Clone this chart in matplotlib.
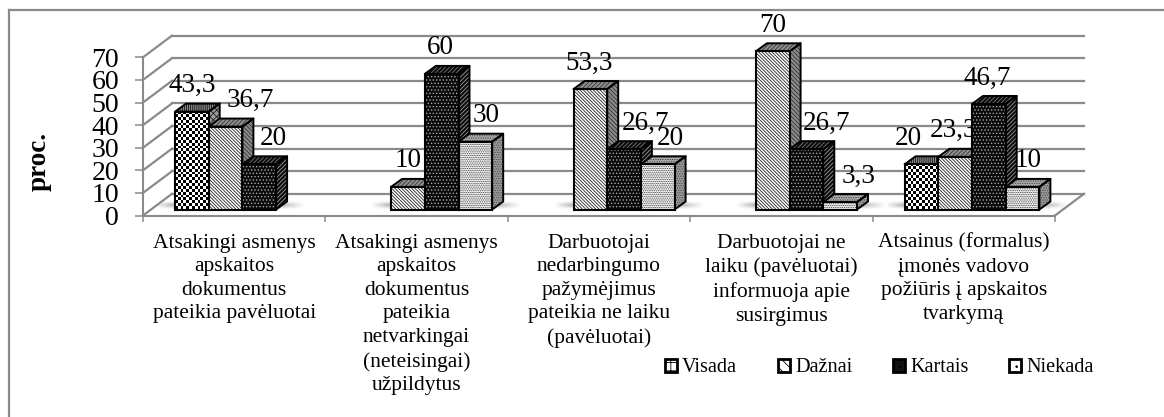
import numpy as np
import matplotlib
matplotlib.use("Agg")
import matplotlib.pyplot as plt
from matplotlib.lines import Line2D
from matplotlib.patches import Patch, Polygon

plt.rcParams['font.family'] = ['Liberation Serif', 'DejaVu Sans']
plt.rcParams['hatch.linewidth'] = 0.6

categories = [
    "Atsakingi asmenys\napskaitos\ndokumentus\npateikia pavėluotai",
    "Atsakingi asmenys\napskaitos\ndokumentus\npateikia\nnetvarkingai\n(neteisingai)\nužpildytus",
    "Darbuotojai\nnedarbingumo\npažymėjimus\npateikia ne laiku\n(pavėluotai)",
    "Darbuotojai ne\nlaiku (pavėluotai)\ninformuoja apie\nsusirgimus",
    "Atsainus (formalus)\nįmonės vadovo\npožiūris į apskaitos\ntvarkymą",
]
series_names = ["Visada", "Dažnai", "Kartais", "Niekada"]
visada = [43.3, None, None, None, 20]
daznai = [36.7, 10, 53.3, 70, 23.3]
kartais = [20, 60, 26.7, 26.7, 46.7]
niekada = [None, 30, 20, 3.3, 10]
series = [visada, daznai, kartais, niekada]
value_labels = [
    ["43,3", None, None, None, "20"],
    ["36,7", "10", "53,3", "70", "23,3"],
    ["20", "60", "26,7", "26,7", "46,7"],
    [None, "30", "20", "3,3", "10"],
]
y_ticks = [0, 10, 20, 30, 40, 50, 60, 70]

# label nudges in pixels from bar centre, excel placed them by hand
label_dx = [
    [0, 0, 0, 0, -13],
    [25, 0, -1, 0, -2],
    [14, -1, 21, 20, -2],
    [0, 11, 13, 18, 6],
]

W, H = 1164, 417
GRID = "#8a8a8a"
PX_X = 182.4   # pixels for one category
PX_Y = 2.26    # pixels for one percent
BAR_W = 33.7 / PX_X
BAR_START = 32 / PX_X
BASE = 6 / PX_Y
WALL_DX, WALL_DY = 29 / PX_X, 21.7 / PX_Y
DEPTH_X, DEPTH_Y = 11 / PX_X, 8 / PX_Y

# front, side and top look of each series: (face, hatch colour, hatch)
looks = [
    {"front": None, "side": ("#9a9a9a", "#222222", "xxxxx"), "top": ("#8a8a8a", "#111111", "||||||||")},
    {"front": ("white", "#222222", "\\" * 10), "side": ("#8c8c8c", "#333333", "\\" * 8), "top": ("#909090", "#333333", "/" * 8)},
    {"front": ("#0a0a0a", "#a8a8a8", "....."), "side": ("#0a0a0a", "#999999", "/" * 8), "top": ("#0a0a0a", "#777777", "/" * 8)},
    {"front": ("white", "#333333", "." * 9), "side": ("#9c9c9c", "#444444", "." * 7), "top": ("#ababab", "#444444", "." * 7)},
]

fig = plt.figure(figsize=(W / 100, H / 100), dpi=100)
ax = fig.add_axes([143 / W, 1 - 215.5 / H, 912 / W, 158.2 / H])
ax.patch.set_visible(False)

# chart frame, only top and left fall inside the picture
fig.add_artist(Line2D([9 / W, 9 / W], [0, 1 - 10 / H], color=GRID, lw=1.6))
fig.add_artist(Line2D([9 / W, 1], [1 - 10 / H, 1 - 10 / H], color=GRID, lw=1.6))

# walls
for v in y_ticks:
    ax.plot([WALL_DX, 5 + WALL_DX], [v + WALL_DY, v + WALL_DY], color=GRID, lw=1.6, zorder=1, clip_on=False)
    ax.plot([0, WALL_DX], [v, v + WALL_DY], color=GRID, lw=1.6, zorder=1, clip_on=False)
ax.plot([5, 5 + WALL_DX], [0, WALL_DY], color=GRID, lw=1.6, zorder=1, clip_on=False)

# soft shadows on the floor
for g in range(5):
    used = [s for s in range(4) if series[s][g] is not None]
    x0 = g + BAR_START + used[0] * BAR_W - 20 / PX_X
    x1 = g + BAR_START + (used[-1] + 1) * BAR_W + 27 / PX_X
    n = int((x1 - x0) * PX_X)
    fade = np.minimum(np.minimum(np.arange(n) / 20, (n - np.arange(n)) / 26), 1)
    alpha = np.outer(np.linspace(0.1, 0.6, 4).tolist() + np.linspace(0.6, 0.1, 4).tolist(), fade)
    shade = np.zeros((8, n, 4))
    shade[..., :3] = 0.5
    shade[..., 3] = alpha
    ax.imshow(shade, extent=[x0, x1, BASE, BASE + 8 / PX_Y], origin="lower", aspect="auto", zorder=2, clip_on=False)


def face(points, look, z):
    bg, col, hatch = look
    ax.add_patch(Polygon(points, closed=True, facecolor=bg, edgecolor="none", zorder=z, clip_on=False))
    ax.add_patch(Polygon(points, closed=True, fill=False, edgecolor=col, hatch=hatch, lw=0, zorder=z, clip_on=False))
    ax.add_patch(Polygon(points, closed=True, fill=False, edgecolor="black", lw=1.4, joinstyle="round", zorder=z + 0.1, clip_on=False))


for s, values in enumerate(series):
    z = 10 + s
    for g, v in enumerate(values):
        if v is None:
            continue
        x = g + BAR_START + s * BAR_W
        b, t = BASE, BASE + v
        r = x + BAR_W
        face([(r, b), (r + DEPTH_X, b + DEPTH_Y), (r + DEPTH_X, t + DEPTH_Y), (r, t)], looks[s]["side"], z)
        face([(x, t), (r, t), (r + DEPTH_X, t + DEPTH_Y), (x + DEPTH_X, t + DEPTH_Y)], looks[s]["top"], z)
        if looks[s]["front"] is None:
            # checker board has no hatch of its own, so use a clipped image
            rows = max(int(v * PX_Y / 2.85), 1)
            cols = 12
            board = np.indices((rows, cols)).sum(axis=0) % 2
            ax.imshow(board, extent=[x, r, b, t], origin="lower", cmap="gray", aspect="auto",
                      interpolation="nearest", zorder=z + 0.2, clip_on=False)
        else:
            ax.bar(x, v, BAR_W, bottom=b, align="edge", color=looks[s]["front"][0], zorder=z + 0.2, clip_on=False)
            ax.bar(x, v, BAR_W, bottom=b, align="edge", fill=False, edgecolor=looks[s]["front"][1],
                   hatch=looks[s]["front"][2], lw=0, zorder=z + 0.2, clip_on=False)
        ax.bar(x, v, BAR_W, bottom=b, align="edge", fill=False, edgecolor="black", lw=1.5, zorder=z + 0.3, clip_on=False)
        ax.annotate(value_labels[s][g], (x + BAR_W / 2, t), xytext=(label_dx[s][g], 26), textcoords="offset pixels",
                    ha="center", va="center", fontsize=19.5, zorder=z + 0.5, annotation_clip=False)

ax.set_xlim(0, 5)
ax.set_ylim(0, 70)
ax.set_yticks(y_ticks)
ax.set_xticks(range(6))
ax.set_xticklabels([])
ax.set_xticks(np.arange(5) + 0.5, categories, minor=True, fontsize=15.5, linespacing=1.33, va="top")
ax.tick_params(axis="x", which="minor", length=0, pad=13)
ax.tick_params(axis="x", which="major", length=4, width=1.1, color=GRID)
ax.tick_params(axis="y", length=5.8, width=1.1, color=GRID, labelsize=20, pad=11.5)
for side in ("top", "right"):
    ax.spines[side].set_visible(False)
for side in ("left", "bottom"):
    ax.spines[side].set_color(GRID)
    ax.spines[side].set_linewidth(1.5)
ax.set_ylabel("proc.", fontsize=19.5, fontweight="bold")
ax.yaxis.set_label_coords((52 - 143) / 912, (215.5 - 161) / 158.2)

handles = [
    Patch(facecolor="white", edgecolor="black", hatch="++", lw=2),
    Patch(facecolor="white", edgecolor="black", hatch="\\\\\\", lw=2),
    Patch(facecolor="#111111", edgecolor="black", hatch="..", lw=2),
    Patch(facecolor="white", edgecolor="black", hatch="..", lw=2),
]
ax.legend(handles, series_names, ncol=4, frameon=False, loc="center left", fontsize=14.6,
          bbox_to_anchor=(665 / W, 1 - 368 / H), bbox_transform=fig.transFigure, borderpad=0, borderaxespad=0,
          handlelength=0.6, handleheight=0.6, handletextpad=0.25, columnspacing=2.0)

fig.savefig("out.png", dpi=100)
